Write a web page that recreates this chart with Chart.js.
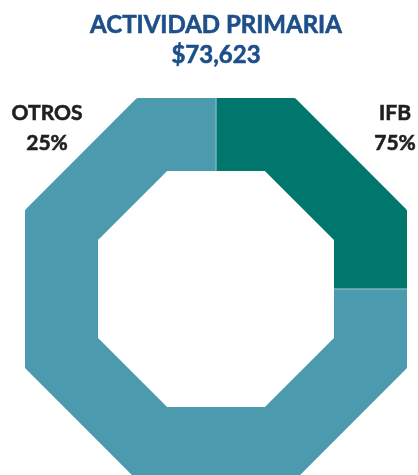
<!DOCTYPE html>
<html>
<head>
<meta charset="utf-8">
<script src="https://cdn.jsdelivr.net/npm/chart.js@4.4.1/dist/chart.umd.min.js"></script>
<style>
    html, body { margin: 0; padding: 0; background: #fff; overflow: hidden; width: 418px; height: 475px; }
    #wrap { position: absolute; left: 0; top: 0; width: 432px; height: 578px; }
    .title { position: absolute; left: 0; width: 432px; text-align: center; color: #1d4f8a;
             font-family: Lato, sans-serif; font-weight: bold; font-size: 24px; line-height: 30px;
             -webkit-text-stroke: 0.6px #1d4f8a; }
</style>
</head>
<body>
<div id="wrap"><canvas id="octChart"></canvas></div>
<div class="title" style="top:9px">ACTIVIDAD PRIMARIA</div>
<div class="title" style="top:39px">$73,623</div>
<script>
    'use strict';

    // slices, clockwise from 12 o'clock
    var sliceNames = ['IFB', 'OTROS'];
    var sliceValues = [25, 75];
    var sliceColors = ['#00766c', '#4c9aad'];
    // text printed beside the chart
    var labelNames = ['OTROS', 'IFB'];
    var labelShares = ['25%', '75%'];

    var holeRatio = 118 / 191;

    // clip the round doughnut to an octagonal ring
    var octagonClip = {
        id: 'octagonClip',
        beforeDatasetsDraw: function(chart) {
            var arc = chart.getDatasetMeta(0).data[0];
            if (!arc) {
                return;
            }
            var ctx = chart.ctx;
            var R = arc.outerRadius;
            ctx.save();
            ctx.beginPath();
            [R, R * holeRatio].forEach(function(r) {
                for (var k = 0; k < 8; k++) {
                    var a = (22.5 + 45 * k) * Math.PI / 180;
                    var px = arc.x + r * Math.cos(a);
                    var py = arc.y + r * Math.sin(a);
                    if (k === 0) {
                        ctx.moveTo(px, py);
                    } else {
                        ctx.lineTo(px, py);
                    }
                }
                ctx.closePath();
            });
            ctx.clip('evenodd');
        },
        afterDatasetsDraw: function(chart) {
            chart.ctx.restore();
        }
    };

    var sideLabels = {
        id: 'sideLabels',
        afterDraw: function(chart) {
            var ctx = chart.ctx;
            var xs = [47, 395];
            ctx.save();
            ctx.fillStyle = '#231f20';
            ctx.strokeStyle = '#231f20';
            ctx.lineWidth = 0.6;
            ctx.font = 'bold 21px Lato, sans-serif';
            ctx.textAlign = 'center';
            ctx.textBaseline = 'alphabetic';
            labelNames.forEach(function(name, i) {
                ctx.fillText(name, xs[i], 120);
                ctx.strokeText(name, xs[i], 120);
                ctx.fillText(labelShares[i], xs[i], 150);
                ctx.strokeText(labelShares[i], xs[i], 150);
            });
            ctx.restore();
        }
    };

    new Chart(document.getElementById('octChart'), {
        type: 'doughnut',
        data: {
            labels: sliceNames,
            datasets: [{
                data: sliceValues,
                backgroundColor: sliceColors,
                borderColor: '#ffffff',
                borderWidth: 0.4
            }]
        },
        options: {
            responsive: true,
            maintainAspectRatio: false,
            animation: false,
            cutout: '50%',
            radius: 191 / Math.cos(22.5 * Math.PI / 180),
            layout: { padding: 0 },
            plugins: {
                legend: { display: false },
                tooltip: { enabled: false },
                title: { display: false }
            }
        },
        plugins: [octagonClip, sideLabels]
    });
</script>
</body>
</html>
